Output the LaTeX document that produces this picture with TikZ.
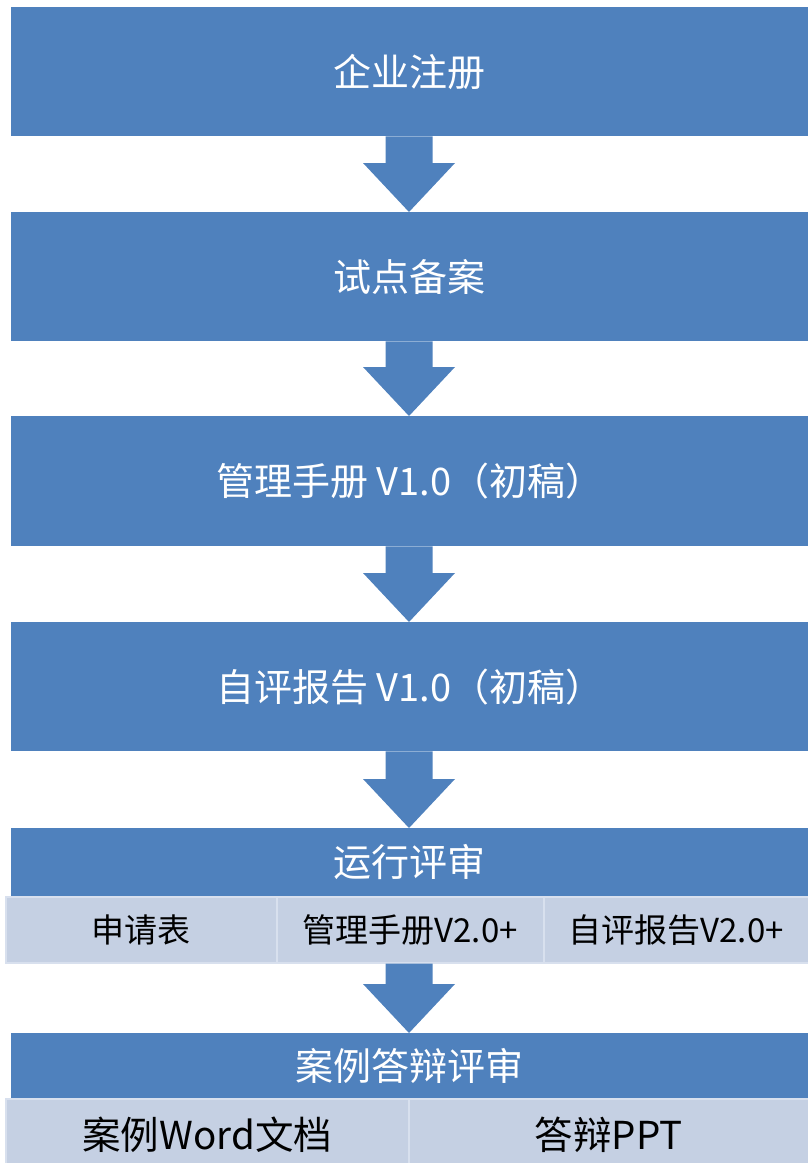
\documentclass[tikz,border=0pt]{standalone}
\usepackage{fontspec}
\setmainfont{Noto Sans CJK SC}
\usetikzlibrary{calc}
\definecolor{mainblue}{HTML}{4F81BD}
\definecolor{subblue}{HTML}{C5D0E3}
\definecolor{subedge}{HTML}{D8E0EE}
\tikzset{
  bigbox/.style={fill=mainblue, draw=none, anchor=north west, inner sep=0pt, minimum width=797pt, text=white, font=\fontsize{38}{42}\selectfont},
  subbox/.style={fill=subblue, draw=subedge, line width=1.5pt, anchor=north west, inner sep=0pt, minimum height=66pt, text=black, font=\fontsize{33}{38}\selectfont},
  subbig/.style={subbox, font=\fontsize{38.5}{42}\selectfont},
}
\newcommand\flowarrow[2]{%
  \fill[mainblue] let \p1=(#1.south), \p2=(#2.north) in
    (409pt-23.5pt,\y1) -- (409pt+23.5pt,\y1) -- (409pt+23.5pt,\y2+49pt) -- (409pt+46pt,\y2+49pt)
    -- (409pt,\y2) -- (409pt-46pt,\y2+49pt) -- (409pt-23.5pt,\y2+49pt) -- cycle;}
\begin{document}
\begin{tikzpicture}[x=1pt,y=-1pt]
\useasboundingbox (0,0) rectangle (808,1163);
\node[bigbox, minimum height=129pt] (b1) at (11,7) {企业注册};
\node[bigbox, minimum height=129pt] (b2) at (11,212) {试点备案};
\node[bigbox, minimum height=130pt] (b3) at (11,416) {管理手册 V1.0（初稿）};
\node[bigbox, minimum height=129pt] (b4) at (11,622) {自评报告 V1.0（初稿）};
\node[bigbox, minimum height=68pt] (b5) at (11,828) {运行评审};
\node[subbox, minimum width=271pt] (s51) at (5,896) {申请表};
\node[subbox, minimum width=267pt] (s52) at (276,896) {管理手册V2.0+};
\node[subbox, minimum width=265pt] (s53) at (543,896) {自评报告V2.0+};
\node[bigbox, minimum height=65pt] (b6) at (11,1033) {案例答辩评审};
\node[subbig, minimum width=403pt, minimum height=72pt] (s61) at (5,1098) {\raisebox{3pt}{案例Word文档}};
\node[subbig, minimum width=400pt, minimum height=72pt] (s62) at (408,1098) {\raisebox{3pt}{答辩PPT}};
\flowarrow{b1}{b2}
\flowarrow{b2}{b3}
\flowarrow{b3}{b4}
\flowarrow{b4}{b5}
\flowarrow{s52}{b6}
\end{tikzpicture}
\end{document}
